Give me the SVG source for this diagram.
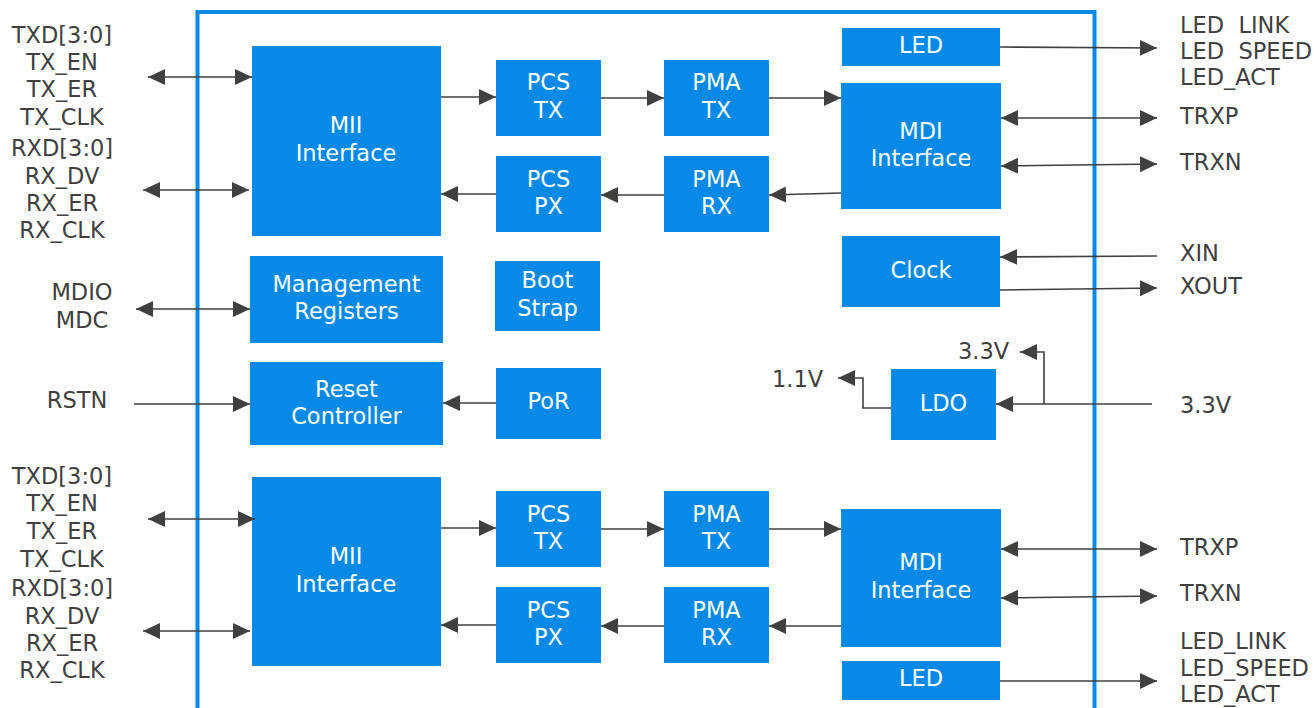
<svg xmlns="http://www.w3.org/2000/svg" width="1314" height="708" viewBox="0 0 1314 708">
<defs>
<marker id="a" viewBox="0 0 16 16" refX="16" refY="8" markerWidth="17" markerHeight="17" markerUnits="userSpaceOnUse" orient="auto-start-reverse"><path d="M0,0.5 L16,8 L0,15.5 z" fill="#404040"/></marker>
<style>
.b{fill:#0789e8}
.t{font-family:"DejaVu Sans",Verdana,sans-serif;font-size:22.5px;fill:#fff;text-anchor:middle}
.l{font-family:"DejaVu Sans",Verdana,sans-serif;font-size:22.5px;fill:#404040}
.c{text-anchor:middle}
.w{fill:none;stroke:#404040;stroke-width:1.6}
.e{marker-end:url(#a)}
.s{marker-start:url(#a)}
</style>
</defs>
<rect width="1314" height="708" fill="#fff"/>
<path d="M197.5,710 V12 H1094.5 V710" fill="none" stroke="#0789e8" stroke-width="4"/>

<g id="mii1"><rect class="b" x="252" y="46" width="189" height="190"/><text class="t" x="346" y="133">MII</text><text class="t" x="346" y="161">Interface</text></g>
<g id="pcstx1"><rect class="b" x="496" y="60" width="105" height="76"/><text class="t" x="548.5" y="90">PCS</text><text class="t" x="548.5" y="118">TX</text></g>
<g id="pmatx1"><rect class="b" x="664" y="60" width="105" height="76"/><text class="t" x="716.5" y="90">PMA</text><text class="t" x="716.5" y="118">TX</text></g>
<g id="pcspx1"><rect class="b" x="496" y="156" width="105" height="76"/><text class="t" x="548.5" y="187">PCS</text><text class="t" x="548.5" y="214">PX</text></g>
<g id="pmarx1"><rect class="b" x="664" y="156" width="105" height="76"/><text class="t" x="716.5" y="187">PMA</text><text class="t" x="716.5" y="214">RX</text></g>
<g id="led1"><rect class="b" x="842" y="28" width="158" height="38"/><text class="t" x="921" y="53">LED</text></g>
<g id="mdi1"><rect class="b" x="841" y="83" width="160" height="126"/><text class="t" x="921" y="139">MDI</text><text class="t" x="921" y="166">Interface</text></g>
<g id="clock"><rect class="b" x="842" y="236" width="158" height="71"/><text class="t" x="921" y="278">Clock</text></g>
<g id="mgmt"><rect class="b" x="250" y="256" width="193" height="87"/><text class="t" x="346.5" y="292">Management</text><text class="t" x="346.5" y="319">Registers</text></g>
<g id="boot"><rect class="b" x="495" y="261" width="105" height="70"/><text class="t" x="547.5" y="288">Boot</text><text class="t" x="547.5" y="316">Strap</text></g>
<g id="reset"><rect class="b" x="250" y="362" width="193" height="83"/><text class="t" x="346.5" y="397">Reset</text><text class="t" x="346.5" y="424">Controller</text></g>
<g id="por"><rect class="b" x="496" y="368" width="105" height="71"/><text class="t" x="548.5" y="409">PoR</text></g>
<g id="ldo"><rect class="b" x="891" y="369" width="105" height="71"/><text class="t" x="943.5" y="411">LDO</text></g>
<g id="mii2"><rect class="b" x="252" y="477" width="189" height="189"/><text class="t" x="346" y="564">MII</text><text class="t" x="346" y="592">Interface</text></g>
<g id="pcstx2"><rect class="b" x="496" y="491" width="105" height="76"/><text class="t" x="548.5" y="522">PCS</text><text class="t" x="548.5" y="549">TX</text></g>
<g id="pmatx2"><rect class="b" x="664" y="491" width="105" height="76"/><text class="t" x="716.5" y="522">PMA</text><text class="t" x="716.5" y="549">TX</text></g>
<g id="pcspx2"><rect class="b" x="496" y="587" width="105" height="76"/><text class="t" x="548.5" y="618">PCS</text><text class="t" x="548.5" y="645">PX</text></g>
<g id="pmarx2"><rect class="b" x="664" y="587" width="105" height="76"/><text class="t" x="716.5" y="618">PMA</text><text class="t" x="716.5" y="645">RX</text></g>
<g id="mdi2"><rect class="b" x="841" y="509" width="160" height="138"/><text class="t" x="921" y="570">MDI</text><text class="t" x="921" y="598">Interface</text></g>
<g id="led2"><rect class="b" x="842" y="661" width="158" height="39"/><text class="t" x="921" y="686">LED</text></g>

<g id="connectors">
<path class="w s e" d="M148,77 H252"/>
<path class="w s e" d="M143,190 H249"/>
<path class="w s e" d="M136,309 H250"/>
<path class="w e" d="M134,404 H250"/>
<path class="w e" d="M496,403 H443"/>
<path class="w e" d="M441,97 H496"/>
<path class="w e" d="M601,98 H664"/>
<path class="w e" d="M769,98 H841"/>
<path class="w e" d="M841,193 L769,195"/>
<path class="w e" d="M664,195 H601"/>
<path class="w e" d="M496,194 H441"/>
<path class="w e" d="M1000,47 L1157,48"/>
<path class="w s e" d="M1001,118 H1157"/>
<path class="w s e" d="M1001,166 L1157,164"/>
<path class="w e" d="M1157,256 L1000,257"/>
<path class="w e" d="M1000,290 L1157,288"/>
<path class="w e" d="M1152,404 H996"/>
<path class="w e" d="M1044,404 V352 H1020"/>
<path class="w e" d="M891,408 H863 V378 H838"/>
<path class="w s e" d="M148,519 H255"/>
<path class="w s e" d="M143,631 H250"/>
<path class="w e" d="M441,528 H496"/>
<path class="w e" d="M601,529 H664"/>
<path class="w e" d="M769,529 H841"/>
<path class="w e" d="M841,626 H769"/>
<path class="w e" d="M664,626 H601"/>
<path class="w e" d="M496,625 H441"/>
<path class="w s e" d="M1001,549 H1157"/>
<path class="w s e" d="M1001,598 L1157,596"/>
<path class="w e" d="M1000,681 H1157"/>
</g>

<g id="labels">
<text class="l c" x="62" y="43">TXD[3:0]</text>
<text class="l c" x="62" y="70">TX_EN</text>
<text class="l c" x="62" y="97">TX_ER</text>
<text class="l c" x="62" y="125">TX_CLK</text>
<text class="l c" x="62" y="156">RXD[3:0]</text>
<text class="l c" x="62" y="184">RX_DV</text>
<text class="l c" x="62" y="211">RX_ER</text>
<text class="l c" x="62" y="238">RX_CLK</text>
<text class="l c" x="82" y="300">MDIO</text>
<text class="l c" x="82" y="328">MDC</text>
<text class="l c" x="77" y="408">RSTN</text>
<text class="l c" x="62" y="484">TXD[3:0]</text>
<text class="l c" x="62" y="511">TX_EN</text>
<text class="l c" x="62" y="539">TX_ER</text>
<text class="l c" x="62" y="567">TX_CLK</text>
<text class="l c" x="62" y="596">RXD[3:0]</text>
<text class="l c" x="62" y="624">RX_DV</text>
<text class="l c" x="62" y="651">RX_ER</text>
<text class="l c" x="62" y="678">RX_CLK</text>
<text class="l" x="1180" y="33" xml:space="preserve">LED  LINK</text>
<text class="l" x="1180" y="59" xml:space="preserve">LED  SPEED</text>
<text class="l" x="1180" y="85">LED_ACT</text>
<text class="l" x="1180" y="124">TRXP</text>
<text class="l" x="1180" y="170">TRXN</text>
<text class="l" x="1180" y="261">XIN</text>
<text class="l" x="1180" y="294">XOUT</text>
<text class="l" x="958" y="359">3.3V</text>
<text class="l" x="772" y="387">1.1V</text>
<text class="l" x="1180" y="413">3.3V</text>
<text class="l" x="1180" y="555">TRXP</text>
<text class="l" x="1180" y="601">TRXN</text>
<text class="l" x="1180" y="649">LED_LINK</text>
<text class="l" x="1180" y="676">LED_SPEED</text>
<text class="l" x="1180" y="702">LED_ACT</text>
</g>
</svg>
